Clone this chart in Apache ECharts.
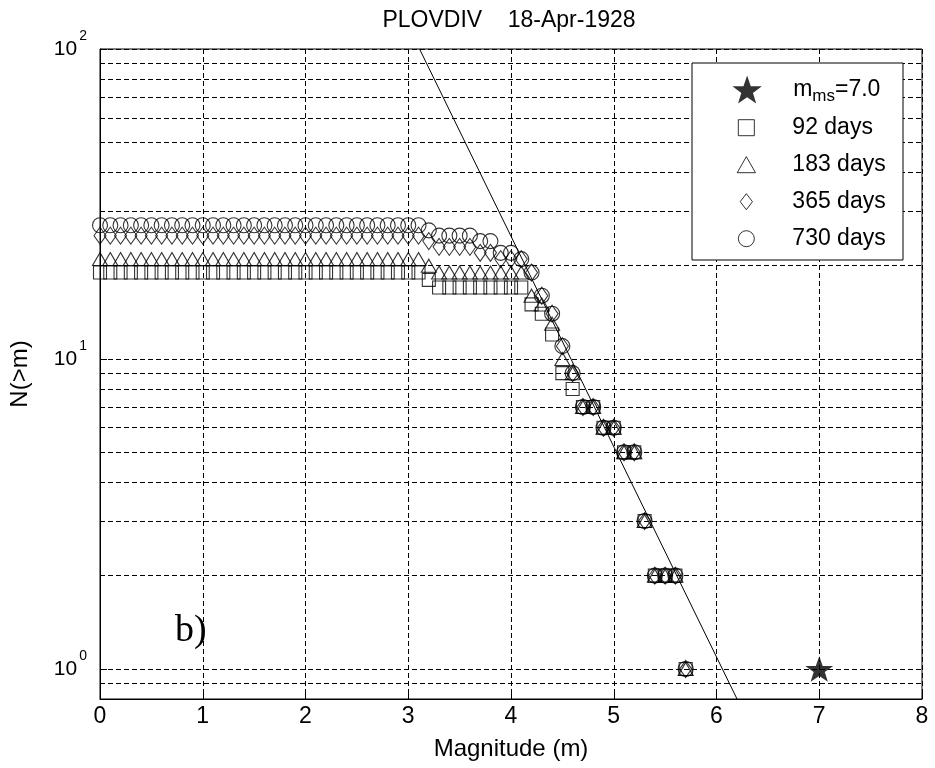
<!DOCTYPE html>
<html>
<head>
<meta charset="utf-8">
<script src="https://cdn.jsdelivr.net/npm/echarts@6/dist/echarts.min.js"></script>
<style>
  html, body { margin: 0; padding: 0; background: #fff; }
  #main { width: 935px; height: 768px; }
</style>
</head>
<body>
<div id="main"></div>
<script>
// magnitude steps (m)
const magnitudes = [
  0.0, 0.1, 0.2, 0.3, 0.4, 0.5, 0.6, 0.7, 0.8, 0.9,
  1.0, 1.1, 1.2, 1.3, 1.4, 1.5, 1.6, 1.7, 1.8, 1.9,
  2.0, 2.1, 2.2, 2.3, 2.4, 2.5, 2.6, 2.7, 2.8, 2.9,
  3.0, 3.1, 3.2, 3.3, 3.4, 3.5, 3.6, 3.7, 3.8, 3.9,
  4.0, 4.1, 4.2, 4.3, 4.4, 4.5, 4.6, 4.7, 4.8, 4.9,
  5.0, 5.1, 5.2, 5.3, 5.4, 5.5, 5.6, 5.7
]
// N(>m), 92 days
const n92 = [
  19, 19, 19, 19, 19, 19, 19, 19, 19, 19,
  19, 19, 19, 19, 19, 19, 19, 19, 19, 19,
  19, 19, 19, 19, 19, 19, 19, 19, 19, 19,
  19, 19, 18, 17, 17, 17, 17, 17, 17, 17,
  17, 17, 15, 14, 12, 9, 8, 7, 7, 6,
  6, 5, 5, 3, 2, 2, 2, 1
]
// N(>m), 183 days
const n183 = [
  21, 21, 21, 21, 21, 21, 21, 21, 21, 21,
  21, 21, 21, 21, 21, 21, 21, 21, 21, 21,
  21, 21, 21, 21, 21, 21, 21, 21, 21, 21,
  21, 21, 20, 19, 19, 19, 19, 19, 19, 19,
  19, 19, 16, 15, 13, 10, 9, 7, 7, 6,
  6, 5, 5, 3, 2, 2, 2, 1
]
// N(>m), 365 days
const n365 = [
  25, 25, 25, 25, 25, 25, 25, 25, 25, 25,
  25, 25, 25, 25, 25, 25, 25, 25, 25, 25,
  25, 25, 25, 25, 25, 25, 25, 25, 25, 25,
  25, 25, 24, 23, 23, 23, 23, 22, 22, 21,
  21, 21, 19, 16, 14, 11, 9, 7, 7, 6,
  6, 5, 5, 3, 2, 2, 2, 1
]
// N(>m), 730 days
const n730 = [
  27, 27, 27, 27, 27, 27, 27, 27, 27, 27,
  27, 27, 27, 27, 27, 27, 27, 27, 27, 27,
  27, 27, 27, 27, 27, 27, 27, 27, 27, 27,
  27, 27, 26, 25, 25, 25, 25, 24, 24, 22,
  22, 21, 19, 16, 14, 11, 9, 7, 7, 6,
  6, 5, 5, 3, 2, 2, 2, 1
]
const mainShock = [[7.0, 1]]
// fitted line end points
const fitLine = [[3.11, 100], [6.2, 0.8]]
// dashed minor grid lines on the log axis
const yMinorGrid = [0.9, 2, 3, 4, 5, 6, 7, 8, 9, 20, 30, 40, 50, 60, 70, 80, 90]

const FONT = '"Liberation Sans", Arial, sans-serif'
const STAR = 'path://M50,0L61.8,35.1L97.6,34.5L68.8,56.3L79.4,90.5L50,70L20.6,90.5L31.2,56.3L2.4,34.5L38.2,35.1Z'
const dash = [5, 3]

function pairs(ys) {
  return magnitudes.map((m, i) => [m, ys[i]])
}

function openMarker(name, data, symbol, size) {
  return {
    name: name,
    type: 'scatter',
    data: pairs(data),
    symbol: symbol,
    symbolSize: size,
    z: 6,
    itemStyle: {
      color: 'rgba(0,0,0,0)',
      borderColor: '#000',
      borderWidth: 1.1
    },
    emphasis: { disabled: true }
  }
}

const chart = echarts.init(document.getElementById('main'), null, { renderer: 'canvas' })

const option = {
  animation: false,
  backgroundColor: '#fff',
  title: {
    text: 'PLOVDIV    18-Apr-1928',
    left: 509,
    top: 7,
    padding: 0,
    textAlign: 'center',
    textStyle: { fontFamily: FONT, fontSize: 23, fontWeight: 'normal', color: '#000', lineHeight: 28 }
  },
  grid: {
    left: 99,
    top: 49,
    right: 13,
    bottom: 69,
    show: true,
    borderColor: '#000',
    borderWidth: 1,
    backgroundColor: '#fff'
  },
  legend: [
    {
      data: ['m_ms=7.0'],
      left: 732.4,
      top: 74,
      padding: 0,
      itemWidth: 82,
      itemHeight: 28,
      selectedMode: false,
      z: 20,
      itemStyle: { borderWidth: 0 },
      formatter: () => '{m|m}{s|ms}{m|=7.0}',
      textStyle: {
        color: '#000',
        fontFamily: FONT,
        rich: {
          m: { fontFamily: FONT, fontSize: 23, lineHeight: 26, color: '#000' },
          s: { fontFamily: FONT, fontSize: 17, lineHeight: 17, padding: [14, 0, 0, 0], color: '#000' }
        }
      }
    },
    {
      data: [
        { name: '92 days', icon: 'path://M0,0H10V10H0Z' },
        { name: '183 days', icon: 'path://M8,0L16,14H0Z' },
        { name: '365 days', icon: 'path://M6.5,0L13,8.5L6.5,17L0,8.5Z' },
        { name: '730 days', icon: 'circle' }
      ],
      orient: 'vertical',
      left: 736.7,
      top: 115.7,
      padding: 0,
      itemWidth: 82,
      itemHeight: 16,
      itemGap: 13,
      selectedMode: false,
      z: 20,
      itemStyle: { color: 'rgba(0,0,0,0)', borderColor: '#000', borderWidth: 1 },
      textStyle: { color: '#000', fontFamily: FONT, fontSize: 23, lineHeight: 24 }
    }
  ],
  graphic: [
    {
      type: 'rect',
      z: 10,
      silent: true,
      shape: { x: 692, y: 63, width: 211, height: 197 },
      style: { fill: '#fff', stroke: '#000', lineWidth: 1 }
    },
    {
      type: 'text',
      z: 10,
      silent: true,
      left: 175,
      top: 612,
      style: { text: 'b)', fontFamily: '"Liberation Serif", "Times New Roman", serif', fontSize: 38, fill: '#000' }
    }
  ],
  xAxis: {
    type: 'value',
    min: 0,
    max: 8,
    interval: 1,
    name: 'Magnitude (m)',
    nameLocation: 'middle',
    nameGap: 38,
    nameTextStyle: { fontFamily: FONT, fontSize: 24, color: '#000' },
    axisLine: { lineStyle: { color: '#000', width: 1 } },
    axisTick: { inside: true, length: 7, lineStyle: { color: '#000' } },
    axisLabel: { fontFamily: FONT, fontSize: 23, color: '#000', margin: 6 },
    splitLine: { show: true, lineStyle: { color: '#000', type: dash, width: 1 } }
  },
  yAxis: {
    type: 'log',
    logBase: 10,
    min: 0.8,
    max: 100,
    name: 'N(>m)',
    nameLocation: 'middle',
    nameRotate: 90,
    nameGap: 68,
    nameTextStyle: { fontFamily: FONT, fontSize: 24, color: '#000' },
    axisLine: { lineStyle: { color: '#000', width: 1 } },
    axisTick: { inside: true, length: 7, lineStyle: { color: '#000' } },
    axisLabel: {
      margin: 13,
      formatter: function (v) {
        const e = Math.log10(v)
        if (Math.abs(e - Math.round(e)) > 1e-6) return ''
        return '{b|10}{s|' + Math.round(e) + '}'
      },
      rich: {
        b: { fontFamily: FONT, fontSize: 21, color: '#000' },
        s: { fontFamily: FONT, fontSize: 14, color: '#000', padding: [0, 0, 26, 2] }
      }
    },
    splitLine: { show: true, lineStyle: { color: '#000', type: dash, width: 1 } }
  },
  series: [
    {
      name: 'm_ms=7.0',
      type: 'scatter',
      data: mainShock,
      symbol: STAR,
      symbolKeepAspect: true,
      symbolSize: [28, 27],
      z: 7,
      itemStyle: { color: '#000' },
      emphasis: { disabled: true }
    },
    openMarker('92 days', n92, 'rect', 13),
    openMarker('183 days', n183, 'triangle', [15, 13]),
    openMarker('365 days', n365, 'diamond', [12, 17]),
    openMarker('730 days', n730, 'circle', 15),
    {
      name: 'fit',
      type: 'line',
      data: fitLine,
      showSymbol: false,
      clip: true,
      z: 5,
      lineStyle: { color: '#000', width: 1 },
      emphasis: { disabled: true },
      markLine: {
        silent: true,
        symbol: 'none',
        z: 1,
        label: { show: false },
        lineStyle: { color: '#000', type: dash, width: 1 },
        data: yMinorGrid.map(v => ({ yAxis: v }))
      }
    }
  ]
}

chart.setOption(option)
</script>
</body>
</html>
